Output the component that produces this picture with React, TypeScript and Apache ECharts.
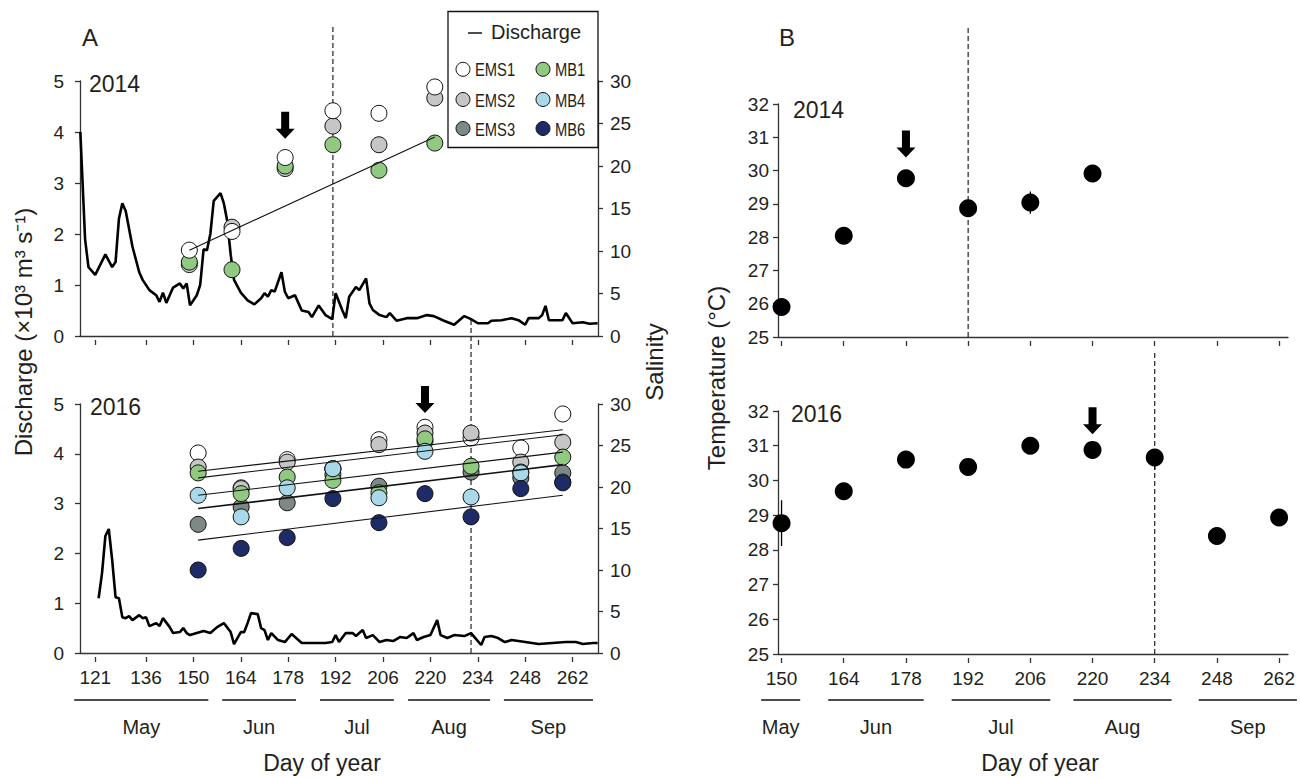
import React, { useEffect, useRef } from "react";
import * as echarts from "echarts";

const FONT = '"Liberation Sans", Arial, Helvetica, sans-serif';
const INK = "#231f20";

// ---------- axes ----------
const tickDaysA = [121, 136, 150, 164, 178, 192, 206, 220, 234, 248, 262];
const tickDaysB = [150, 164, 178, 192, 206, 220, 234, 248, 262];
const monthNames = ["May", "Jun", "Jul", "Aug", "Sep"];
const monthFromA = [114.8, 158.5, 187.4, 213.4, 241.7];
const monthToA = [154.4, 180.3, 209.2, 237.6, 268.0];
const monthFromB = [145.4, 160.5, 188.3, 215.7, 243.9];
const monthToB = [154.2, 182.0, 210.5, 237.8, 266.0];

// ---------- discharge (x10^3 m3/s) ----------
const discharge2014: [number, number][] = [
  [116.6, 4.0], [118, 1.9], [119, 1.35], [121, 1.2], [124, 1.6], [126, 1.35], [127, 1.45], [128, 2.3],
  [129, 2.6], [130, 2.45], [132, 1.75], [134, 1.25], [135, 1.1], [137, 0.9], [139, 0.8], [140, 0.67],
  [141, 0.85], [142, 0.65], [144, 0.95], [146, 1.03], [147, 0.93], [148, 1.03], [149, 0.6], [151, 0.8],
  [152, 1.0], [153, 1.7], [154, 1.68], [155, 2.0], [156, 2.65], [158, 2.8], [159, 2.6], [160, 2.25],
  [161, 1.6], [162, 1.1], [164, 0.85], [166, 0.7], [168, 0.62], [170, 0.74], [171, 0.84], [172, 0.77],
  [173, 0.9], [174, 0.87], [176, 1.25], [177, 0.87], [178, 0.74], [180, 0.8], [181, 0.65], [182, 0.5],
  [184, 0.47], [185, 0.37], [187, 0.6], [189, 0.41], [191, 0.33], [192, 0.84], [194, 0.5], [195, 0.35],
  [196, 0.77], [198, 0.96], [199, 0.9], [201, 1.13], [202, 0.64], [203, 0.51], [205, 0.41], [207, 0.37],
  [208, 0.45], [210, 0.3], [213, 0.35], [216, 0.35], [219, 0.41], [221, 0.39], [224, 0.3], [227, 0.22],
  [230, 0.39], [232, 0.33], [234, 0.25], [237, 0.25], [238, 0.3], [241, 0.31], [244, 0.35], [246, 0.31],
  [248, 0.22], [249, 0.35], [252, 0.35], [253, 0.41], [254, 0.59], [255, 0.31], [259, 0.31], [260, 0.45],
  [262, 0.25], [265, 0.27], [267, 0.24], [269.4, 0.25],
];
const discharge2016: [number, number][] = [
  [122, 1.1], [123, 1.6], [124, 2.35], [125, 2.49], [126, 1.87], [127, 1.12], [128, 1.1], [129, 0.72],
  [130, 0.7], [131, 0.74], [132, 0.66], [134, 0.76], [135, 0.7], [136, 0.72], [137, 0.54], [139, 0.6],
  [140, 0.54], [141, 0.7], [143, 0.52], [144, 0.4], [146, 0.42], [147, 0.5], [148, 0.4], [149, 0.36],
  [151, 0.4], [153, 0.44], [155, 0.4], [157, 0.52], [159, 0.6], [161, 0.42], [162, 0.18], [164, 0.42],
  [165, 0.42], [166, 0.6], [167, 0.8], [169, 0.78], [170, 0.5], [171, 0.46], [172, 0.26], [173, 0.4],
  [175, 0.26], [177, 0.22], [179, 0.38], [180, 0.32], [182, 0.2], [186, 0.2], [189, 0.2], [191, 0.22],
  [192, 0.36], [193, 0.22], [195, 0.4], [197, 0.4], [198, 0.34], [200, 0.46], [201, 0.3], [203, 0.36],
  [205, 0.22], [207, 0.26], [209, 0.24], [211, 0.32], [213, 0.3], [215, 0.4], [216, 0.26], [218, 0.32],
  [220, 0.36], [222, 0.66], [223, 0.36], [225, 0.3], [227, 0.36], [230, 0.34], [232, 0.4], [233, 0.32],
  [235, 0.16], [236, 0.32], [238, 0.34], [240, 0.3], [242, 0.22], [244, 0.26], [248, 0.22], [252, 0.18],
  [256, 0.2], [260, 0.22], [263, 0.22], [265, 0.18], [268, 0.2], [269.4, 0.2],
];

// ---------- salinity 2014 ----------
const days2014 = [148.8, 161.4, 177.1, 191.2, 204.8, 221.3];
const sal2014EMS2 = [8.4, 12.8, 19.7, 24.7, 22.5, 28.0];
const sal2014MB1 = [8.7, 7.8, 20.0, 22.5, 19.5, 22.7];
const sal2014EMS1 = [10.1, 12.3, 21.0, 26.5, 26.2, 29.3];
const trendDays2014 = [148.8, 221.3];
const trendVals2014 = [10.1, 23.4];

// ---------- salinity 2016 ----------
const days2016 = [151.4, 164.1, 177.7, 191.2, 204.8, 218.4, 232, 246.7, 259.1];
const sal2016EMS1 = [24.1, 19.9, 23.3, 22.2, 25.7, 27.2, 25.9, 24.7, 28.8];
const sal2016EMS2 = [22.4, 19.8, 23.0, 22.2, 25.1, 26.5, 26.5, 23.0, 25.4];
const sal2016EMS3 = [15.5, 17.6, 18.1, 21.5, 20.1, 25.5, 21.8, 21.1, 21.7];
const sal2016MB1 = [21.7, 19.2, 21.2, 20.8, 19.3, 25.8, 22.5, 21.8, 23.6];
const sal2016MB4 = [19.0, 16.4, 19.9, 22.2, 18.7, 24.3, 18.8, 21.7, 20.6];
const sal2016MB6 = [10.0, 12.6, 13.9, 18.6, 15.7, 19.2, 16.4, 19.8, 20.5];
const trendDays2016 = [151.4, 259.1];
const trendStart2016 = [21.9, 21.1, 19.0, 17.4, 13.6];
const trendEnd2016 = [26.9, 26.3, 24.2, 22.7, 19.0];

// ---------- temperature ----------
const daysB2014 = [150, 164, 178, 192, 206, 220];
const temp2014 = [25.9, 28.04, 29.77, 28.87, 29.04, 29.91];
const errB2014: [number, number, number][] = [[206, 28.7, 29.37]];
const daysB2016 = [150, 164, 178, 192, 206, 220, 234, 248, 262];
const temp2016 = [28.77, 29.69, 30.6, 30.39, 31.0, 30.88, 30.66, 28.4, 28.93];
const errB2016: [number, number, number][] = [[150, 28.11, 29.43], [234, 30.31, 30.9]];

// ---------- events ----------
const dashA2014 = 191.2;
const dashA2016 = 232;
const dashB2014 = 192;
const dashB2016 = 234;
const arrowA2014: [number, number] = [177.1, 4.13];
const arrowA2016: [number, number] = [218.4, 5.09];
const arrowB2014: [number, number] = [178, 30.8];
const arrowB2016: [number, number] = [220, 31.72];

const COLORS: Record<string, string> = {
  EMS1: "#ffffff",
  EMS2: "#c6c6c6",
  EMS3: "#7e8886",
  MB1: "#92c981",
  MB4: "#a9d9e8",
  MB6: "#1f2b66",
};

const ARROW = "path://M5.5,0 H13.5 V17 H19 L9.5,27 L0,17 H5.5 Z";

const GRIDS = [
  { left: 80, top: 81, width: 518, height: 255 },
  { left: 80, top: 404, width: 518, height: 249 },
  { left: 778, top: 104, width: 510, height: 233 },
  { left: 778, top: 411, width: 510, height: 243 },
];

export default function App() {
  const ref = useRef<HTMLDivElement>(null);

  useEffect(() => {
    document.body.style.margin = "0";
    const chart = echarts.init(ref.current!, null, { renderer: "svg" });

    const label = (show: boolean, margin = 14) => ({
      show,
      color: INK,
      fontSize: 19,
      fontFamily: FONT,
      margin,
    });

    const mainX = (grid: number, min: number, max: number) => ({
      type: "value",
      gridIndex: grid,
      min,
      max,
      position: "bottom",
      axisLine: { show: true, onZero: false, lineStyle: { color: "#333", width: 1.3 } },
      axisTick: { show: false },
      axisLabel: { show: false },
      splitLine: { show: false },
    });
    const tickX = (grid: number, min: number, max: number, ticks: number[], showLabels: boolean) => ({
      type: "value",
      gridIndex: grid,
      min,
      max,
      position: "bottom",
      offset: 4,
      axisLine: { show: false, onZero: false },
      axisTick: { show: true, length: 5, customValues: ticks, lineStyle: { color: "#333", width: 1.3 } },
      axisLabel: { ...label(showLabels, 11), customValues: ticks },
      splitLine: { show: false },
    });
    const yAx = (grid: number, min: number, max: number, interval: number, pos: string, margin: number) => ({
      type: "value",
      gridIndex: grid,
      min,
      max,
      interval,
      position: pos,
      axisLine: { show: true, onZero: false, lineStyle: { color: "#333", width: 1.3 } },
      axisTick: { show: true, length: 5, lineStyle: { color: "#333", width: 1.3 } },
      axisLabel: label(true, margin),
      splitLine: { show: false },
    });

    const AMIN = 116.5, AMAX = 269.5, BMIN = 149.2, BMAX = 264.0;

    const xAxis = [
      mainX(0, AMIN, AMAX),
      tickX(0, AMIN, AMAX, tickDaysA, false),
      mainX(1, AMIN, AMAX),
      tickX(1, AMIN, AMAX, tickDaysA, true),
      mainX(2, BMIN, BMAX),
      tickX(2, BMIN, BMAX, tickDaysB, false),
      mainX(3, BMIN, BMAX),
      tickX(3, BMIN, BMAX, tickDaysB, true),
    ];
    const yAxis = [
      yAx(0, 0, 5, 1, "left", 16),
      yAx(0, 0, 30, 5, "right", 12),
      yAx(1, 0, 5, 1, "left", 16),
      yAx(1, 0, 30, 5, "right", 12),
      yAx(2, 25, 32, 1, "left", 9),
      yAx(3, 25, 32, 1, "left", 9),
    ];

    const zip = (d: number[], v: number[]) => d.map((x, i) => [x, v[i]]);
    const dots = (name: string, d: number[], v: number[], xi: number, yi: number) => ({
      type: "scatter",
      name,
      xAxisIndex: xi,
      yAxisIndex: yi,
      data: zip(d, v),
      symbol: "circle",
      symbolSize: 16,
      silent: true,
      z: 3,
      itemStyle: { color: COLORS[name], borderColor: "#111", borderWidth: 1, opacity: 1 },
    });
    const thinLine = (data: number[][], xi: number, yi: number, width = 1.1) => ({
      type: "line",
      xAxisIndex: xi,
      yAxisIndex: yi,
      data,
      symbol: "none",
      silent: true,
      z: 5,
      lineStyle: { color: "#111", width },
    });
    const dash = (day: number, lo: number, hi: number, xi: number, yi: number) => ({
      type: "line",
      xAxisIndex: xi,
      yAxisIndex: yi,
      data: [[day, lo], [day, hi]],
      symbol: "none",
      clip: false,
      silent: true,
      z: 1,
      lineStyle: { color: "#222", width: 1.2, type: [5, 3] },
    });
    const arrow = (p: [number, number], xi: number, yi: number) => ({
      type: "scatter",
      xAxisIndex: xi,
      yAxisIndex: yi,
      data: [p],
      symbol: ARROW,
      symbolSize: [19, 27],
      clip: false,
      silent: true,
      z: 6,
      itemStyle: { color: "#000", opacity: 1 },
    });
    const errBars = (data: [number, number, number][], xi: number, yi: number) => ({
      type: "custom",
      xAxisIndex: xi,
      yAxisIndex: yi,
      data,
      silent: true,
      z: 2,
      encode: { x: 0, y: [1, 2] },
      renderItem: (_p: any, api: any) => {
        const a = api.coord([api.value(0), api.value(1)]);
        const b = api.coord([api.value(0), api.value(2)]);
        return {
          type: "line",
          shape: { x1: a[0], y1: a[1], x2: b[0], y2: b[1] },
          style: { stroke: "#000", lineWidth: 1.3 },
        };
      },
    });
    const tempDots = (d: number[], v: number[], xi: number, yi: number) => ({
      type: "scatter",
      xAxisIndex: xi,
      yAxisIndex: yi,
      data: zip(d, v),
      symbol: "circle",
      symbolSize: 18,
      silent: true,
      z: 3,
      itemStyle: { color: "#000", opacity: 1 },
    });

    const series: any[] = [
      dash(dashA2014, 0, 6.06, 0, 0),
      dash(dashA2016, 0, 6.69, 2, 2),
      dash(dashB2014, 25, 34.3, 4, 4),
      dash(dashB2016, 25, 33.75, 6, 5),
      {
        type: "line", xAxisIndex: 0, yAxisIndex: 0, data: discharge2014, symbol: "none", silent: true, z: 2,
        lineStyle: { color: "#000", width: 2.6 },
      },
      {
        type: "line", xAxisIndex: 2, yAxisIndex: 2, data: discharge2016, symbol: "none", silent: true, z: 2,
        lineStyle: { color: "#000", width: 2.6 },
      },
      dots("EMS2", days2014, sal2014EMS2, 0, 1),
      dots("MB1", days2014, sal2014MB1, 0, 1),
      dots("EMS1", days2014, sal2014EMS1, 0, 1),
      thinLine(zip(trendDays2014, trendVals2014), 0, 1),
      dots("EMS1", days2016, sal2016EMS1, 2, 3),
      dots("EMS2", days2016, sal2016EMS2, 2, 3),
      dots("EMS3", days2016, sal2016EMS3, 2, 3),
      dots("MB1", days2016, sal2016MB1, 2, 3),
      dots("MB4", days2016, sal2016MB4, 2, 3),
      dots("MB6", days2016, sal2016MB6, 2, 3),
      ...trendStart2016.map((s, i) =>
        thinLine([[trendDays2016[0], s], [trendDays2016[1], trendEnd2016[i]]], 2, 3, i === 3 ? 1.6 : 1.1)
      ),
      arrow(arrowA2014, 0, 0),
      arrow(arrowA2016, 2, 2),
      errBars(errB2014, 4, 4),
      errBars(errB2016, 6, 5),
      tempDots(daysB2014, temp2014, 4, 4),
      tempDots(daysB2016, temp2016, 6, 5),
      arrow(arrowB2014, 4, 4),
      arrow(arrowB2016, 6, 5),
    ];

    chart.setOption({
      animation: false,
      backgroundColor: "#ffffff",
      textStyle: { fontFamily: FONT },
      grid: GRIDS.map((g) => ({ ...g, containLabel: false })),
      xAxis,
      yAxis,
      series,
    });

    // ---------- annotations ----------
    const txt = (text: string, x: number, y: number, size: number, align = "left", extra: any = {}) => ({
      type: "text",
      x,
      y,
      z: 100,
      silent: true,
      ...extra,
      style: {
        text,
        fill: INK,
        fontSize: size,
        fontFamily: FONT,
        align,
        verticalAlign: "middle",
        textAlign: align,
        textVerticalAlign: "middle",
      },
    });

    const px = (xi: number, v: number) => chart.convertToPixel({ xAxisIndex: xi }, v) as number;

    const monthGraphics: any[] = [];
    monthNames.forEach((m, i) => {
      const a1 = px(3, monthFromA[i]), a2 = px(3, monthToA[i]);
      monthGraphics.push({
        type: "line", z: 100, silent: true,
        shape: { x1: a1, y1: 700, x2: a2, y2: 700 },
        style: { stroke: "#111", lineWidth: 1.3 },
      });
      monthGraphics.push(txt(m, (a1 + a2) / 2, 727, 20, "center"));
      const b1 = px(7, monthFromB[i]), b2 = px(7, monthToB[i]);
      monthGraphics.push({
        type: "line", z: 100, silent: true,
        shape: { x1: b1, y1: 700, x2: b2, y2: 700 },
        style: { stroke: "#111", lineWidth: 1.3 },
      });
      monthGraphics.push(txt(m, (b1 + b2) / 2, 727, 20, "center"));
    });

    const legendRows = [
      ["EMS1", "MB1"],
      ["EMS2", "MB4"],
      ["EMS3", "MB6"],
    ];
    const rowY = [69.3, 99.5, 128.5];
    const legend: any[] = [
      {
        type: "rect", z: 90, silent: true,
        shape: { x: 448, y: 11.5, width: 150, height: 136 },
        style: { fill: "#fff", stroke: "#111", lineWidth: 1.3 },
      },
      {
        type: "line", z: 100, silent: true,
        shape: { x1: 468, y1: 33, x2: 482, y2: 33 },
        style: { stroke: "#111", lineWidth: 1.5 },
      },
      txt("Discharge", 491, 31.5, 20),
    ];
    legendRows.forEach((row, r) => {
      row.forEach((name, c) => {
        const cx = c === 0 ? 463 : 543;
        legend.push({
          type: "circle", z: 100, silent: true,
          shape: { cx, cy: rowY[r], r: 7 },
          style: { fill: COLORS[name], stroke: "#111", lineWidth: 1 },
        });
        legend.push(txt(name, cx + 12, rowY[r] + 0.5, 18, "left", { scaleX: 0.82, originX: 0, originY: 0 }));
      });
    });

    chart.setOption({
      graphic: [
        txt("A", 82, 37, 24),
        txt("B", 779, 37, 24),
        txt("2014", 89, 84, 23),
        txt("2016", 90, 407, 23),
        txt("2014", 793, 110, 23),
        txt("2016", 791, 414, 23),
        txt("Discharge (×10³ m³ s⁻¹)", 23, 332, 24, "center", { rotation: Math.PI / 2 }),
        txt("Salinity", 654, 362, 24, "center", { rotation: Math.PI / 2 }),
        txt("Temperature (°C)", 716, 378, 24, "center", { rotation: Math.PI / 2 }),
        txt("Day of year", 322, 763, 23, "center"),
        txt("Day of year", 1040, 763, 23, "center"),
        ...monthGraphics,
        ...legend,
      ],
    });

    return () => chart.dispose();
  }, []);

  return <div ref={ref} style={{ width: 1301, height: 778, background: "#fff" }} />;
}
